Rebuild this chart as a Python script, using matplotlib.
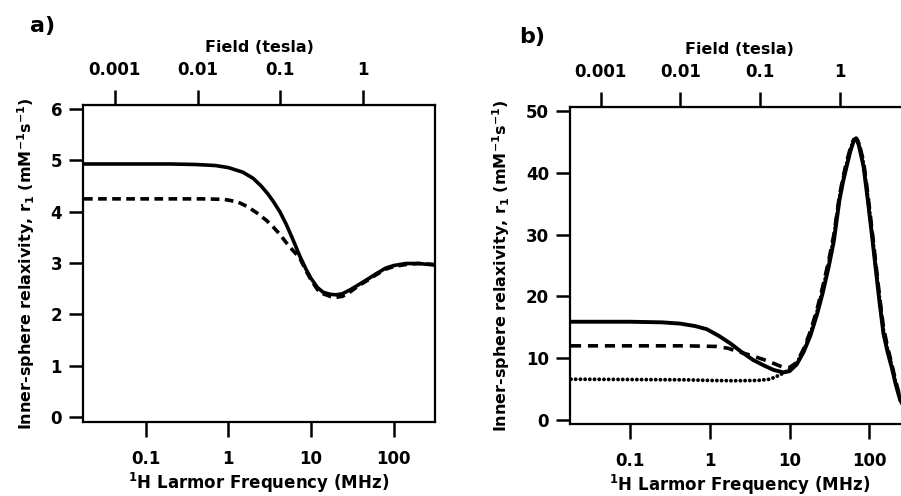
import matplotlib
matplotlib.use('Agg')
import matplotlib.pyplot as plt

plt.rcParams['font.family'] = ['DejaVu Sans']
plt.rcParams['font.weight'] = 'bold'
plt.rcParams['mathtext.default'] = 'regular'

GAMMA = 42.58   # MHz per tesla for 1H

# ---- panel a data (freq in MHz, r1 in mM-1 s-1) ----
fa_solid = [0.018, 0.05, 0.1, 0.2, 0.4, 0.7, 1.0, 1.5, 2.0, 2.5, 3.0, 3.5, 4.2, 5.0, 6.0, 7.3, 8.7,
            10, 12, 14, 17, 20, 24, 30, 38, 48, 60, 80, 100, 140, 200, 316]
ra_solid = [4.93, 4.93, 4.93, 4.93, 4.92, 4.90, 4.86, 4.77, 4.65, 4.50, 4.35, 4.20, 4.00, 3.76, 3.47, 3.14, 2.88,
            2.70, 2.52, 2.43, 2.39, 2.38, 2.40, 2.48, 2.58, 2.68, 2.78, 2.90, 2.95, 2.99, 2.99, 2.96]

fa_dash = [0.018, 0.1, 0.5, 0.9, 1.3, 1.7, 2.2, 2.9, 3.5, 4.2, 5.0, 6.0, 7.3, 8.7,
           10, 12, 14, 17, 20, 24, 30, 38, 48, 60, 80, 100, 140, 200, 316]
ra_dash = [4.25, 4.25, 4.25, 4.24, 4.19, 4.10, 3.98, 3.83, 3.70, 3.56, 3.40, 3.25, 3.10, 2.85,
           2.67, 2.48, 2.40, 2.35, 2.33, 2.35, 2.44, 2.56, 2.66, 2.76, 2.88, 2.93, 2.97, 2.99, 2.97]

# ---- panel b data ----
fb_solid = [0.018, 0.1, 0.25, 0.42, 0.65, 0.91, 1.3, 1.8, 2.5, 3.5, 4.8, 6.3, 8.4, 10, 12.3, 15,
            18.2, 22, 26, 31, 36, 42.3, 47, 52, 58, 64, 68.5, 74, 85, 96, 108, 120, 135, 151,
            170, 191, 215, 245, 316]
rb_solid = [15.9, 15.9, 15.8, 15.6, 15.2, 14.7, 13.6, 12.4, 11.0, 9.7, 8.8, 8.1, 7.7, 7.9, 9.0, 11.0,
            13.6, 17.0, 20.5, 24.8, 29.0, 35.6, 38.6, 41.0, 43.5, 45.2, 45.6, 44.5, 41.0, 35.6, 30.0, 24.8, 19.0, 14.0,
            11.0, 8.6, 5.8, 3.2, 0.8]

fb_dash = [0.018, 0.5, 1.2, 1.7, 2.2, 3.2, 5.2, 8.4, 10, 12.3, 15,
           18.2, 22, 26, 31, 36, 42.3, 47, 52, 58, 64, 68.5, 74, 85, 96, 108, 120, 135, 151,
           170, 191, 215, 245, 316]
rb_dash = [12.0, 12.0, 11.9, 11.6, 11.1, 10.5, 9.6, 8.5, 8.5, 9.3, 11.5,
           14.3, 17.8, 21.5, 25.8, 30.0, 36.3, 39.3, 41.8, 44.0, 45.4, 45.5, 45.0, 41.8, 36.6, 31.0, 25.8, 20.0, 15.0,
           11.8, 9.2, 6.3, 3.6, 1.0]

fb_dot = [0.018, 0.5, 1.0, 2.0, 4.0, 5.7, 7.6, 11.2, 12.3, 15,
          18.2, 22, 26, 31, 36, 42.3, 47, 52, 58, 64, 68.5, 74, 85, 96, 108, 120, 135, 151,
          170, 191, 215, 245, 316]
rb_dot = [6.6, 6.5, 6.4, 6.35, 6.4, 6.6, 7.3, 8.6, 9.2, 11.2,
          13.9, 17.4, 21.0, 25.3, 29.5, 36.0, 39.0, 41.4, 43.8, 45.3, 45.6, 44.8, 41.4, 36.1, 30.5, 25.3, 19.5, 14.5,
          11.4, 8.9, 6.0, 3.4, 0.9]

xticks_bot = [0.1, 1, 10, 100]
xlabels_bot = ['0.1', '1', '10', '100']
xticks_top = [0.001, 0.01, 0.1, 1]
xlabels_top = ['0.001', '0.01', '0.1', '1']

W, H = 901, 496
fig = plt.figure(figsize=(W / 100, H / 100), dpi=100)

ylab = 'Inner-sphere relaxivity, r$_1$ (mM$^{-1}$s$^{-1}$)'
xlab = '$^1$H Larmor Frequency (MHz)'
fs = 12


def setup(ax, ylim, yticks):
    ax.set_xscale('log')
    ax.set_xlim(0.0175, 316)
    ax.set_ylim(*ylim)
    ax.set_yticks(yticks)
    ax.set_xticks(xticks_bot)
    ax.set_xticklabels(xlabels_bot)
    ax.minorticks_off()
    ax.tick_params(axis='x', which='both', bottom=True, top=False, direction='out',
                   length=11, width=1.8, pad=9, labelsize=fs)
    ax.tick_params(axis='y', direction='out', length=10, width=1.8, pad=5, labelsize=fs, right=False)
    for s in ax.spines.values():
        s.set_linewidth(1.6)
    ax.set_xlabel(xlab, fontsize=fs, fontweight='bold', labelpad=2)
    ax.set_ylabel(ylab, fontsize=fs - 0.5, fontweight='bold', labelpad=10)

    sec = ax.secondary_xaxis('top', functions=(lambda f: f / GAMMA, lambda b: b * GAMMA))
    sec.set_xticks(xticks_top)
    sec.set_xticklabels(xlabels_top)
    sec.minorticks_off()
    sec.tick_params(axis='x', which='both', direction='out', length=11, width=1.8, pad=8, labelsize=fs)
    sec.set_xlabel('Field (tesla)', fontsize=fs - 0.5, fontweight='bold', labelpad=6)
    return sec


# panel a
axa = fig.add_axes([83 / W, 74 / H, 352 / W, 317 / H])
setup(axa, (-0.1, 6.08), [0, 1, 2, 3, 4, 5, 6])
axa.plot(fa_dash, ra_dash, color='black', lw=2.6, dashes=(2.4, 1.5))
axa.plot(fa_solid, ra_solid, color='black', lw=2.6)
fig.text(43 / W, 1 - 26 / H, 'a)', fontsize=16, fontweight='bold', ha='center', va='center')

# panel b
axb = fig.add_axes([570 / W, 72 / H, 339 / W, 317 / H])
setup(axb, (-0.65, 50.65), [0, 10, 20, 30, 40, 50])
axb.plot(fb_dot, rb_dot, color='black', lw=2.8, dashes=(0.01, 1.2), dash_capstyle='round')
axb.plot(fb_dash, rb_dash, color='black', lw=2.6, dashes=(2.8, 1.9))
axb.plot(fb_solid, rb_solid, color='black', lw=2.8)
fig.text(532 / W, 1 - 37 / H, 'b)', fontsize=16, fontweight='bold', ha='center', va='center')

fig.savefig('out.png', dpi=100)
